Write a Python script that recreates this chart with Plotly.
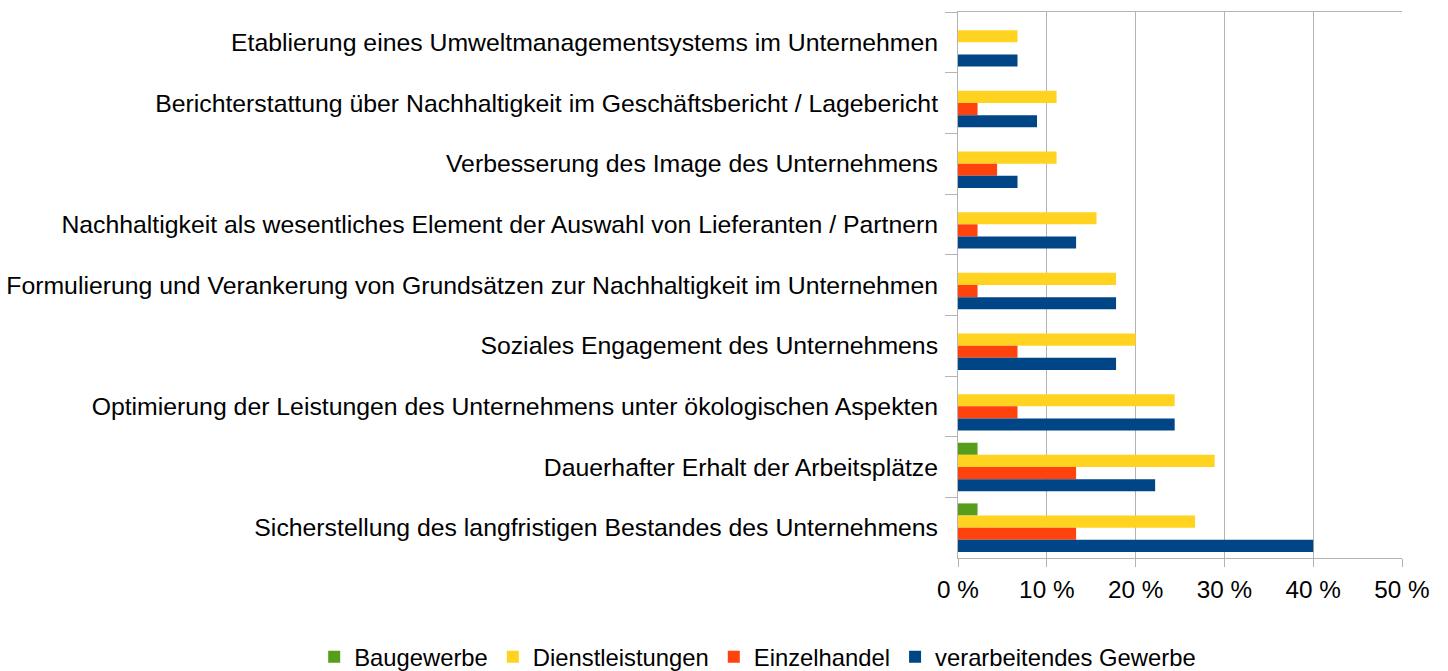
import plotly.graph_objects as go

categories = [
    "Etablierung eines Umweltmanagementsystems im Unternehmen",
    "Berichterstattung über Nachhaltigkeit im Geschäftsbericht / Lagebericht",
    "Verbesserung des Image des Unternehmens",
    "Nachhaltigkeit als wesentliches Element der Auswahl von Lieferanten / Partnern",
    "Formulierung und Verankerung von Grundsätzen zur Nachhaltigkeit im Unternehmen",
    "Soziales Engagement des Unternehmens",
    "Optimierung der Leistungen des Unternehmens unter ökologischen Aspekten",
    "Dauerhafter Erhalt der Arbeitsplätze",
    "Sicherstellung des langfristigen Bestandes des Unternehmens",
]

baugewerbe = [0.0, 0.0, 0.0, 0.0, 0.0, 0.0, 0.0, 2.2, 2.2]
dienstleistungen = [6.7, 11.1, 11.1, 15.6, 17.8, 20.0, 24.4, 28.9, 26.7]
einzelhandel = [0.0, 2.2, 4.4, 2.2, 2.2, 6.7, 6.7, 13.3, 13.3]
verarbeitendes = [6.7, 8.9, 6.7, 13.3, 17.8, 17.8, 24.4, 22.2, 40.0]

series_names = ["Baugewerbe", "Dienstleistungen", "Einzelhandel", "verarbeitendes Gewerbe"]
series_values = [baugewerbe, dienstleistungen, einzelhandel, verarbeitendes]
colors = ["#579d1c", "#ffd320", "#ff420e", "#004586"]

x_tickvals = [0, 10, 20, 30, 40, 50]
x_ticktext = ["0 %", "10 %", "20 %", "30 %", "40 %", "50 %"]

fig = go.Figure()
for name, vals, col in zip(series_names, series_values, colors):
    fig.add_trace(go.Bar(
        y=categories, x=vals, name=name, orientation="h",
        marker=dict(color=col, line=dict(width=0)),
    ))

FONT = "Liberation Sans, Arial, sans-serif"
fig.update_layout(
    barmode="group",
    bargap=0.2,
    bargroupgap=0,
    width=1448, height=671,
    margin=dict(l=958, r=46, t=12, b=113, autoexpand=False),
    paper_bgcolor="white",
    plot_bgcolor="white",
    font=dict(family=FONT, size=20, color="#000000"),
    legend=dict(
        orientation="h",
        xref="paper", yref="paper",
        x=-1.450, xanchor="left",
        y=-0.181, yanchor="middle",
        font=dict(size=23.8, family=FONT),
        itemwidth=30,
        tracegroupgap=0,
    ),
    xaxis=dict(
        range=[0, 50],
        tickvals=x_tickvals,
        ticktext=x_ticktext,
        tickfont=dict(size=24.3),
        showgrid=True, gridcolor="#b3b3b3", gridwidth=1,
        showline=True, linecolor="#b3b3b3", linewidth=1, mirror=True,
        ticks="outside", ticklen=8, tickcolor="#b3b3b3",
        ticklabelstandoff=2,
        zeroline=False,
        automargin=False,
        fixedrange=True,
    ),
    yaxis=dict(
        type="category",
        autorange="reversed",
        tickfont=dict(size=24.8),
        showline=True, linecolor="#b3b3b3", linewidth=1,
        ticks="outside", ticklen=12, tickcolor="#b3b3b3",
        tickson="boundaries",
        showgrid=False,
        ticklabelstandoff=14,
        automargin=False,
        fixedrange=True,
    ),
)

fig.write_html(
    "out.html",
    config={"displayModeBar": False},
    post_script="document.body.style.margin='0';document.body.style.padding='0';",
)
